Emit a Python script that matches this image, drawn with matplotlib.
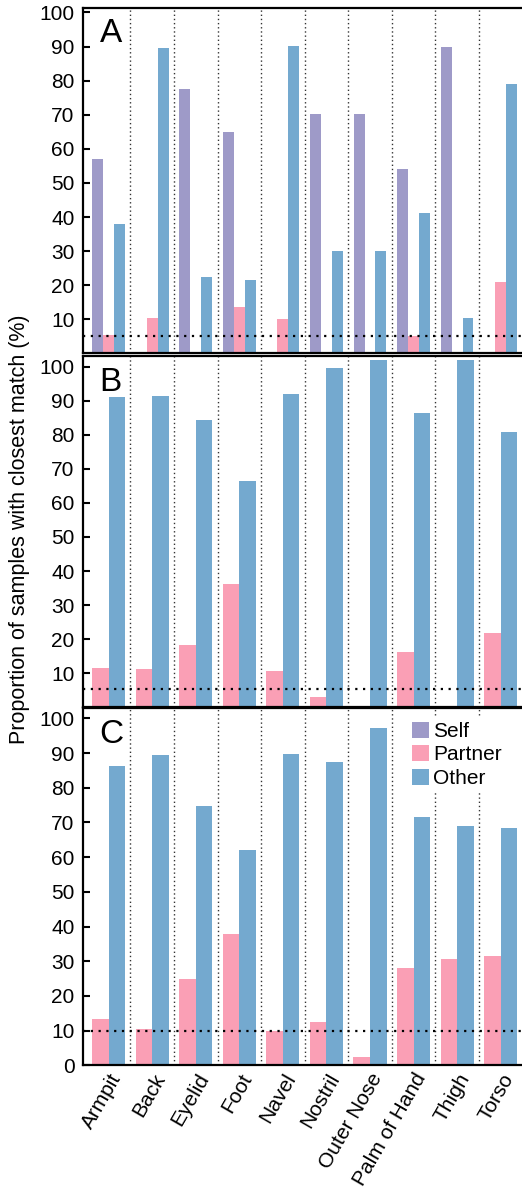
import matplotlib
matplotlib.use("Agg")
import matplotlib.pyplot as plt
import numpy as np

plt.rcParams["font.family"] = ["Liberation Sans", "DejaVu Sans"]

sites = ["Armpit", "Back", "Eyelid", "Foot", "Navel", "Nostril",
         "Outer Nose", "Palm of Hand", "Thigh", "Torso"]

# panel A: self / partner / other
a_self = [57.0, 0, 77.6, 65.0, 0, 70.2, 70.2, 54.1, 89.9, 0]
a_partner = [5.4, 10.4, 0, 13.6, 10.1, 0, 0, 5.1, 0, 20.9]
a_other = [38.0, 89.6, 22.4, 21.5, 90.2, 30.0, 30.0, 41.2, 10.4, 79.1]

# panel B: partner / other
b_partner = [11.6, 11.3, 18.3, 36.2, 10.7, 3.1, 0, 16.3, 0, 21.9]
b_other = [91.0, 91.4, 84.3, 66.4, 92.0, 99.6, 102.0, 86.4, 102.0, 80.8]

# panel C: partner / other
c_partner = [13.4, 10.5, 24.9, 37.9, 9.9, 12.5, 2.4, 28.1, 30.7, 31.6]
c_other = [86.4, 89.5, 74.8, 62.1, 89.8, 87.5, 97.3, 71.6, 69.0, 68.4]

chance = [5, 5.5, 10]
panel_letters = ["A", "B", "C"]

SELF = "#9e9ac8"
PARTNER = "#fa9fb5"
OTHER = "#74a9cf"

W, H = 522, 1192
fig = plt.figure(figsize=(W / 100, H / 100), dpi=100)


def rect(top, bottom):
    return [83 / W, 1 - bottom / H, (W - 83) / W, (bottom - top) / H]


ax_a = fig.add_axes(rect(8, 353.4))
ax_b = fig.add_axes(rect(356, 707.4))
ax_c = fig.add_axes(rect(708, 1065.3))
axes = [ax_a, ax_b, ax_c]

x = np.arange(len(sites))

ax_a.bar(x - 0.25, a_self, 0.25, color=SELF, label="Self")
ax_a.bar(x, a_partner, 0.25, color=PARTNER, label="Partner")
ax_a.bar(x + 0.25, a_other, 0.25, color=OTHER, label="Other")

for ax, part, oth in [(ax_b, b_partner, b_other), (ax_c, c_partner, c_other)]:
    ax.bar(x - 0.19, part, 0.38, color=PARTNER)
    ax.bar(x + 0.19, oth, 0.38, color=OTHER)

ylims = [101.3, 103.1, 103.0]
for i, ax in enumerate(axes):
    ax.set_xlim(-0.59, 9.49)
    ax.set_ylim(0, ylims[i])
    for d in x[:-1] + 0.5:
        ax.axvline(d, color="#333333", linestyle=(0, (1, 2)), linewidth=1, zorder=0)
    ax.axhline(chance[i], color="black", linestyle=(0, (1, 2.5)), linewidth=1.6, zorder=3)
    ax.spines["right"].set_visible(False)
    for s in ["left", "bottom", "top"]:
        ax.spines[s].set_linewidth(1.6)
    ax.tick_params(axis="y", direction="in", length=5, width=1.5, labelsize=15, pad=6)
    ax.tick_params(axis="x", length=0)
    ax.text(0.038, 0.97, panel_letters[i], transform=ax.transAxes,
            fontsize=24, va="top", ha="left")

ax_a.set_yticks(range(10, 101, 10))
ax_b.set_yticks(range(10, 101, 10))
ax_c.set_yticks(range(0, 101, 10))
ax_a.set_xticks(x)
ax_a.set_xticklabels([])
ax_b.set_xticks(x)
ax_b.set_xticklabels([])
ax_c.set_xticks(x)
ax_c.set_xticklabels(sites, rotation=60, ha="right", rotation_mode="anchor", fontsize=15)

handles, labels = ax_a.get_legend_handles_labels()
leg = ax_c.legend(handles, labels, loc="upper right", fontsize=15, frameon=True,
                  framealpha=1, edgecolor="none", fancybox=False,
                  handlelength=0.82, handleheight=0.82, handletextpad=0.2,
                  labelspacing=0.2, borderpad=0.15, bbox_to_anchor=(0.985, 1.0))
leg.set_zorder(5)

fig.text(20 / W, 1 - 529 / H, "Proportion of samples with closest match (%)",
         rotation=90, va="center", ha="center", fontsize=15.5)

fig.savefig("out.png", dpi=100)
